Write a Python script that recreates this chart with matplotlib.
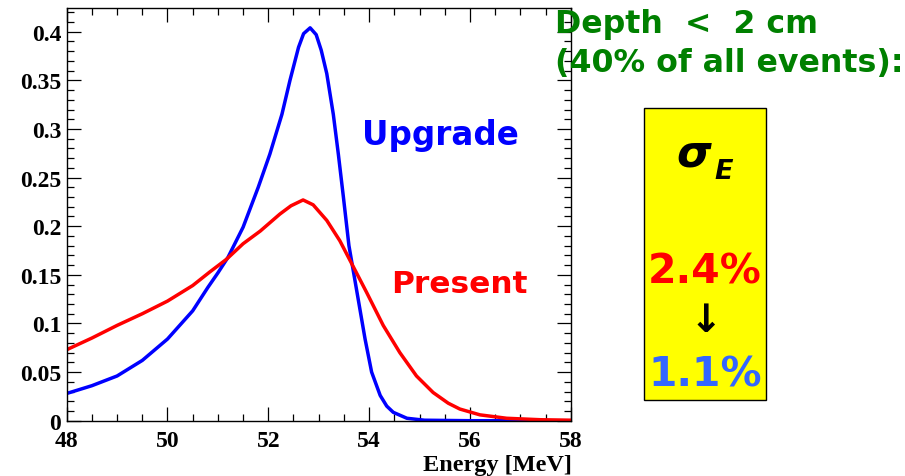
import matplotlib
matplotlib.use("Agg")
import matplotlib.pyplot as plt
from matplotlib.ticker import MultipleLocator, FuncFormatter
from matplotlib.patches import Rectangle
from matplotlib.font_manager import FontProperties

# energy resolution curves
upgrade_e = [48.0, 48.5, 49.0, 49.5, 50.0, 50.5, 50.8, 51.0, 51.2, 51.5, 51.8,
             52.03, 52.27, 52.43, 52.6, 52.7, 52.83, 52.95, 53.05, 53.16, 53.29,
             53.39, 53.49, 53.6, 53.7, 53.8, 53.92, 54.05, 54.22, 54.35, 54.48,
             54.75, 55.1, 56.0, 58.0]
upgrade_v = [0.028, 0.036, 0.046, 0.062, 0.084, 0.113, 0.137, 0.152, 0.168, 0.199, 0.240,
             0.274, 0.315, 0.350, 0.384, 0.398, 0.404, 0.397, 0.381, 0.357, 0.315,
             0.274, 0.230, 0.180, 0.150, 0.120, 0.084, 0.050, 0.026, 0.015, 0.0086,
             0.0025, 0.0005, 0.0, 0.0]

present_e = [48.0, 48.5, 49.0, 49.5, 50.0, 50.5, 50.84, 51.17, 51.5, 51.84, 52.23,
             52.45, 52.69, 52.89, 53.16, 53.42, 53.69, 53.95, 54.28, 54.61, 54.94,
             55.27, 55.57, 55.8, 56.2, 56.73, 57.4, 58.0]
present_v = [0.073, 0.085, 0.098, 0.110, 0.123, 0.139, 0.153, 0.166, 0.182, 0.195, 0.2125,
             0.221, 0.227, 0.222, 0.206, 0.185, 0.158, 0.132, 0.098, 0.070, 0.046,
             0.029, 0.018, 0.012, 0.006, 0.0025, 0.001, 0.0005]

W, H = 905, 477


def px(x, y):
    # pixel position -> figure fraction
    return x / W, 1 - y / H


fig = plt.figure(figsize=(W / 100, H / 100), dpi=100)
ax = fig.add_axes([66.7 / W, 1 - 421.7 / H, (570.7 - 66.7) / W, (421.7 - 9) / H])

ax.plot(upgrade_e, upgrade_v, color="#0000ff", lw=2.5)
ax.plot(present_e, present_v, color="#ff0000", lw=2.5)

ax.set_xlim(48, 58)
ax.set_ylim(0, 0.4244)
ax.xaxis.set_major_locator(MultipleLocator(2))
ax.xaxis.set_minor_locator(MultipleLocator(0.5))
ax.yaxis.set_major_locator(MultipleLocator(0.05))
ax.yaxis.set_minor_locator(MultipleLocator(0.01))
ax.yaxis.set_major_formatter(FuncFormatter(lambda v, p: "%g" % round(v, 3)))

ax.tick_params(which="both", direction="in", top=True, right=True, width=0.9)
ax.tick_params(which="major", length=10)
ax.tick_params(which="minor", length=5)
ax.tick_params(axis="x", pad=6.5)
ax.tick_params(axis="y", pad=4)
tick_font = FontProperties(family="Liberation Serif", weight="bold", size=17)
for lab in ax.get_xticklabels() + ax.get_yticklabels():
    lab.set_fontproperties(tick_font)
for s in ax.spines.values():
    s.set_linewidth(1.0)

fig.text(*px(572, 471), "Energy [MeV]", ha="right", va="baseline",
         family="Liberation Serif", weight="bold", size=17.5)

sans = "DejaVu Sans"
fig.text(*px(362, 145), "Upgrade", color="#0000ff", family=sans, weight="bold",
         size=23.5, va="baseline", ha="left")
fig.text(*px(391, 293.3), "Present", color="#ff0000", family=sans, weight="bold",
         size=22.5, va="baseline", ha="left")

green = "#008000"
fig.text(*px(555, 33.3), "Depth  <  2 cm", color=green, family=sans, weight="bold",
         size=22.8, va="baseline", ha="left")
fig.text(*px(555, 71.7), "(40% of all events):", color=green, family=sans, weight="bold",
         size=22.8, va="baseline", ha="left")

# yellow box with resolution numbers
x0, y0 = px(644, 401)
x1, y1 = px(766, 109)
fig.patches.append(Rectangle((x0, y0), x1 - x0, y1 - y0, transform=fig.transFigure,
                             facecolor="#ffff00", edgecolor="black", lw=1.0))

fig.text(*px(676, 166.7), "σ", family=sans, weight="bold", style="italic",
         size=32, va="baseline", ha="left")
fig.text(*px(714, 179), "E", family=sans, weight="bold", style="italic",
         size=19.5, va="baseline", ha="left")
fig.text(*px(705, 284), "2.4%", color="#ff0000", family=sans, weight="bold",
         size=29.5, va="baseline", ha="center")
fig.text(*px(706, 321), "↓", color="black", family=sans, weight="bold",
         size=28, va="center", ha="center")
fig.text(*px(705, 386.7), "1.1%", color="#3366ff", family=sans, weight="bold",
         size=29.5, va="baseline", ha="center")

fig.savefig("out.png", dpi=100)
